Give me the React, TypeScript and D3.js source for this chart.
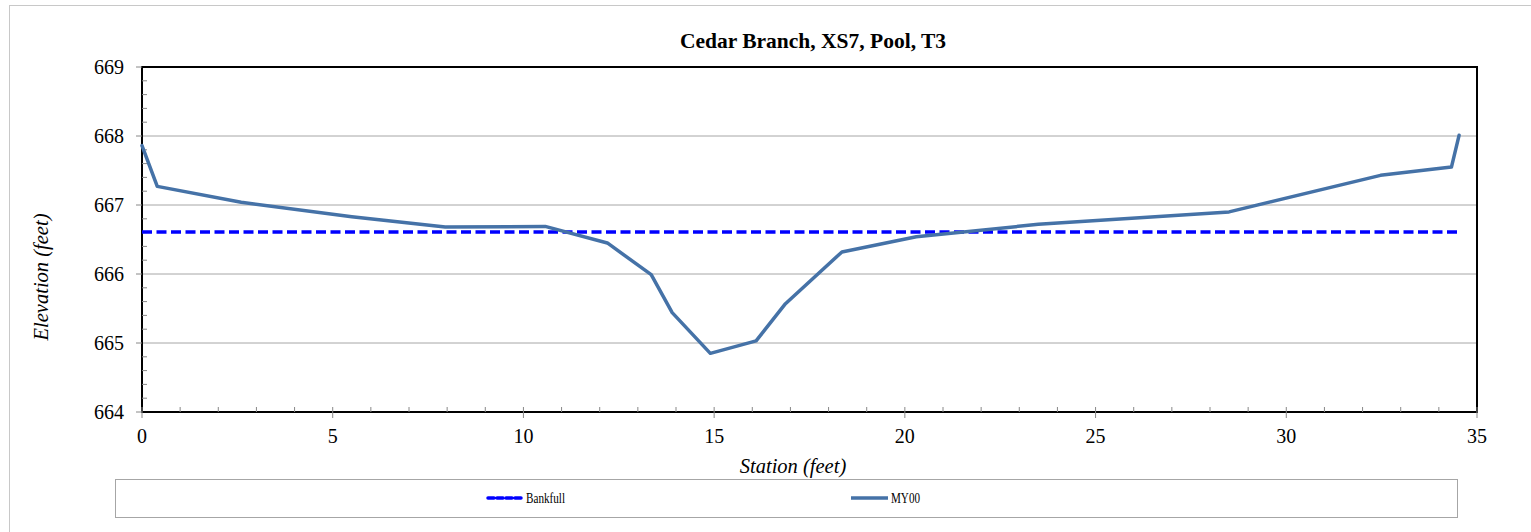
import React from "react";
import * as d3 from "d3";

const stations = [0, 0.4, 2.6, 5.5, 7.95, 10.57, 12.2, 13.35, 13.9, 14.9, 16.1, 16.87, 18.35, 20.3, 23.5, 28.5, 32.47, 34.33, 34.53];
const elevations = [667.86, 667.27, 667.04, 666.83, 666.68, 666.69, 666.45, 665.99, 665.44, 664.85, 665.03, 665.57, 666.32, 666.54, 666.72, 666.9, 667.43, 667.55, 668.01];
const bankfullStations = [0, 34.5];
const bankfullElev = [666.61, 666.61];
const xTicks = [0, 5, 10, 15, 20, 25, 30, 35];
const yTicks = [664, 665, 666, 667, 668, 669];

const W = 1531;
const H = 532;
const left = 142, right = 1477, top = 67, bottom = 412;
const tf = { fontFamily: "Liberation Serif" };

export default function App() {
  const x = d3.scaleLinear().domain([0, 35]).range([left, right]);
  const y = d3.scaleLinear().domain([664, 669]).range([bottom, top]);
  const line = d3.line<[number, number]>().x(d => x(d[0])).y(d => y(d[1]));
  const my00 = stations.map((s, i) => [s, elevations[i]] as [number, number]);
  const bank = bankfullStations.map((s, i) => [s, bankfullElev[i]] as [number, number]);
  const xMinor = d3.range(0, 36, 1).filter(v => v % 5 !== 0);
  const yMinor = d3.range(664, 669.001, 0.2).filter(v => Math.abs(v - Math.round(v)) > 0.01);

  return (
    <svg width={W} height={H} style={{ position: "absolute", left: 0, top: 0 }}>
      <rect x={9.5} y={5.5} width={W + 10} height={H + 10} fill="white" stroke="#c8c8c8" strokeWidth={1} />
      <text x={813} y={48} textAnchor="middle" fontWeight="bold" fontSize={21.5} style={tf}>Cedar Branch, XS7, Pool, T3</text>
      {yTicks.filter(v => v !== 664 && v !== 669).map(v => (
        <line key={"g" + v} x1={left} x2={right} y1={y(v)} y2={y(v)} stroke="#a6a6a6" strokeWidth={1} />
      ))}
      <rect x={left} y={top} width={right - left} height={bottom - top} fill="none" stroke="black" strokeWidth={2} />
      {yMinor.map((v, i) => (
        <line key={"ym" + i} x1={left} x2={left + 5} y1={y(v)} y2={y(v)} stroke="#888" strokeWidth={1} />
      ))}
      {yTicks.map(v => (
        <g key={"yt" + v}>
          <line x1={left - 6} x2={left} y1={y(v)} y2={y(v)} stroke="#888" strokeWidth={1} />
          <text x={124} y={y(v) + 7} textAnchor="end" fontSize={20} style={tf}>{v}</text>
        </g>
      ))}
      {xMinor.map(v => (
        <line key={"xm" + v} x1={x(v)} x2={x(v)} y1={bottom} y2={bottom - 5} stroke="#888" strokeWidth={1} />
      ))}
      {xTicks.map(v => (
        <g key={"xt" + v}>
          <line x1={x(v)} x2={x(v)} y1={bottom - 5} y2={bottom + 6} stroke="#888" strokeWidth={1} />
          <text x={x(v)} y={443} textAnchor="middle" fontSize={20} style={tf}>{v}</text>
        </g>
      ))}
      <path d={line(bank) || ""} fill="none" stroke="#0000ff" strokeWidth={3.5} strokeDasharray="10,4.5" />
      <path d={line(my00) || ""} fill="none" stroke="#4572a7" strokeWidth={3.5} strokeLinejoin="round" strokeLinecap="round" />
      <text x={793} y={473} textAnchor="middle" fontStyle="italic" fontSize={20.5} style={tf}>Station (feet)</text>
      <text transform={`translate(48,277) rotate(-90)`} textAnchor="middle" fontStyle="italic" fontSize={20.5} style={tf}>Elevation (feet)</text>
      <rect x={115.5} y={479.5} width={1342} height={38} fill="white" stroke="#a6a6a6" strokeWidth={1} />
      <line x1={488} x2={522} y1={498} y2={498} stroke="#0000ff" strokeWidth={3.5} strokeDasharray="6,3" strokeLinecap="round" />
      <text x={526} y={503} fontSize={14} textLength={39} lengthAdjust="spacingAndGlyphs" style={tf}>Bankfull</text>
      <line x1={851} x2={888} y1={498} y2={498} stroke="#4572a7" strokeWidth={3.5} />
      <text x={891} y={503} fontSize={14} textLength={29} lengthAdjust="spacingAndGlyphs" style={tf}>MY00</text>
    </svg>
  );
}
